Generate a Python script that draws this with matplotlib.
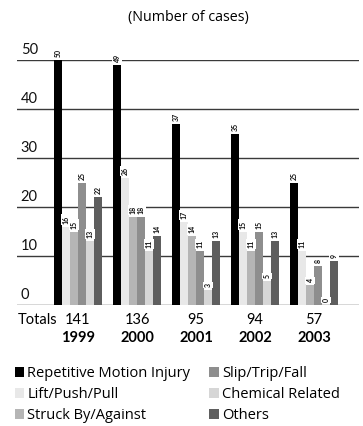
import matplotlib
matplotlib.use("Agg")
import matplotlib.pyplot as plt
import matplotlib.transforms as mtransforms
from matplotlib.patches import Patch
import numpy as np

plt.rcParams['font.family'] = ['Lato', 'DejaVu Sans']

years = ["1999", "2000", "2001", "2002", "2003"]
totals = [141, 136, 95, 94, 57]
categories = ["Repetitive Motion Injury", "Lift/Push/Pull", "Struck By/Against",
              "Slip/Trip/Fall", "Chemical Related", "Others"]
repetitive = [50, 49, 37, 35, 25]
lift = [16, 26, 17, 15, 11]
struck = [15, 18, 14, 11, 4]
slip = [25, 18, 11, 15, 8]
chemical = [13, 11, 3, 5, 0]
others = [22, 14, 13, 13, 9]
series = [repetitive, lift, struck, slip, chemical, others]
colors = ["#000000", "#e8e8e8", "#b5b5b5", "#8e8e8e", "#d6d6d6", "#5e5e5e"]
yticks = [0, 10, 20, 30, 40, 50]

W, H = 363, 426
fig = plt.figure(figsize=(W / 100, H / 100), dpi=100)
fig.patch.set_facecolor("white")

# axes placed in pixel units
ax_l, ax_r, ax_b, ax_t = 17, 359, 305, 60
ax = fig.add_axes([ax_l / W, (H - ax_b) / H, (ax_r - ax_l) / W, (ax_b - ax_t) / H])
ax.set_ylim(0, 50)
group_px = 59.0
bar_w = 8.0 / group_px
first_center = 78.0
ax.set_xlim((ax_l - first_center) / group_px, (ax_r - first_center) / group_px)
ax.set_axis_off()

x = np.arange(len(years))
n = len(series)
ytrans = mtransforms.blended_transform_factory(ax.transAxes, ax.transData)
for yv in yticks:
    ax.axhline(yv, color="#3a3a3a", lw=1.0, zorder=1)
    ax.text(0.011, yv + 0.7, str(yv), transform=ytrans,
            ha="left", va="bottom", fontsize=10.5, color="#111111")

for j, (vals, col) in enumerate(zip(series, colors)):
    offs = (j - (n - 1) / 2) * bar_w
    ax.bar(x + offs, vals, width=bar_w, color=col, zorder=2, linewidth=0)
    for xi, v in zip(x, vals):
        ax.text(xi + offs, v + 0.6, str(v), rotation=90, ha="center", va="bottom",
                fontsize=5, fontweight="bold", color="#111111", zorder=3,
                bbox=dict(boxstyle="square,pad=0.15", fc="white", ec="none"))

# totals and year labels below the axis
tx = mtransforms.blended_transform_factory(ax.transData, fig.transFigure)
fig.text(18 / W, 1 - 320 / H, "Totals", ha="left", va="center", fontsize=10.5)
for xi, t, yr in zip(x, totals, years):
    ax.text(xi, 1 - 320 / H, str(t), transform=tx, ha="center", va="center", fontsize=10.5)
    ax.text(xi, 1 - 338 / H, yr, transform=tx, ha="center", va="center", fontsize=10.5, fontweight="bold")

fig.text(188 / W, 1 - 18 / H, "(Number of cases)", ha="center", va="center",
         fontsize=10.3, family=["Open Sans", "DejaVu Sans"])

handles = [Patch(facecolor=c, edgecolor="none") for c in colors]
fig.legend(handles, categories, ncol=2, loc="upper left", bbox_to_anchor=(15 / W, 1 - 366 / H),
           frameon=False, prop={"family": ["Open Sans", "DejaVu Sans"], "size": 10.5},
           handlelength=0.65, handleheight=0.65, handletextpad=0.2,
           columnspacing=1.3, labelspacing=0.42, borderpad=0, borderaxespad=0)

fig.savefig("out.png", dpi=100, facecolor="white")
